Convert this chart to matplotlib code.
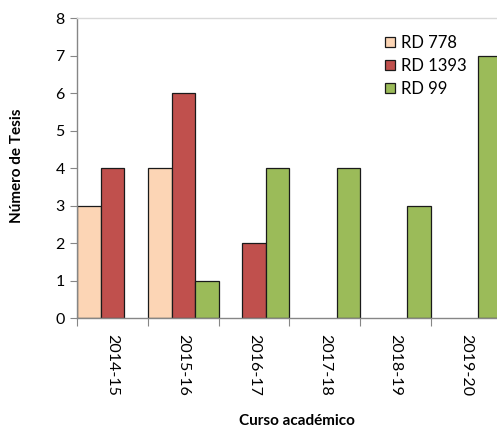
import matplotlib
matplotlib.use("Agg")
import matplotlib.pyplot as plt
import numpy as np

plt.rcParams['font.family'] = ['Lato', 'DejaVu Sans']

categories = ["2014-15", "2015-16", "2016-17", "2017-18", "2018-19", "2019-20"]
rd778 = [3, 4, 0, 0, 0, 0]
rd1393 = [4, 6, 2, 0, 0, 0]
rd99 = [0, 1, 4, 4, 3, 7]
series_names = ["RD 778", "RD 1393", "RD 99"]
colors = ["#FCD5B5", "#C0504D", "#9BBB59"]

W, H = 497, 429
fig = plt.figure(figsize=(W / 100, H / 100), dpi=100)
ax = fig.add_axes([77.3 / W, 1 - 318.3 / H, (501.6 - 77.3) / W, 300 / H])

x = np.arange(len(categories))
bw = 1 / 3
for k, (vals, name, col) in enumerate(zip([rd778, rd1393, rd99], series_names, colors)):
    xs = [xi + (k - 1) * bw for xi, v in zip(x, vals) if v != 0]
    hs = [v for v in vals if v != 0]
    ax.bar(xs, hs, width=bw, color=col, edgecolor="#1a1a1a", linewidth=0.9, label=name)

ax.set_xlim(-0.5, len(categories) - 0.5)
ax.set_ylim(0, 8)
ax.set_yticks(range(0, 9))
ax.tick_params(axis='y', direction='out', length=5, color='#868686', labelsize=11.5, pad=4)

ax.set_xticks(np.arange(len(categories) + 1) - 0.5)
ax.set_xticklabels([])
ax.tick_params(axis='x', which='major', direction='out', length=6, color='#868686')
ax.set_xticks(x, minor=True)
ax.set_xticklabels(categories, minor=True, rotation=-90, fontsize=11.5)
ax.tick_params(axis='x', which='minor', length=0, pad=11)

for s in ['left', 'bottom']:
    ax.spines[s].set_color('#868686')
    ax.spines[s].set_linewidth(1.0)
ax.spines['right'].set_visible(False)
ax.spines['top'].set_color('#D9D9D9')
ax.spines['top'].set_linewidth(1.0)

fig.text(17 / W, 1 - 166 / H, "Número de Tesis", rotation=90, ha='center', va='center',
         fontsize=11, fontweight='bold')
fig.text(297 / W, 1 - 421 / H, "Curso académico", ha='center', va='center',
         fontsize=11, fontweight='bold')

leg = fig.legend(loc='upper left', bbox_to_anchor=(378 / W, 1 - 28 / H), frameon=False,
                 fontsize=12, handlelength=0.6, handleheight=0.6, handletextpad=0.4,
                 labelspacing=0.42, borderaxespad=0)

fig.savefig("out.png", dpi=100)
